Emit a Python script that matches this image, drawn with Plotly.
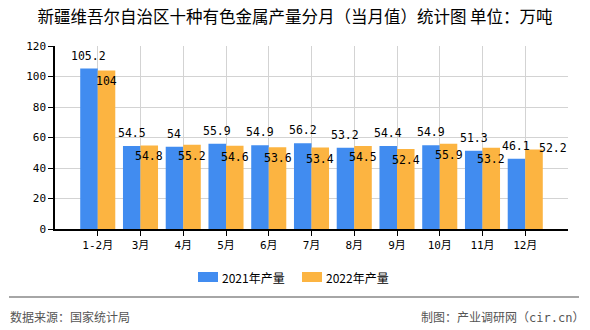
import plotly.graph_objects as go

categories = ["1-2月", "3月", "4月", "5月", "6月", "7月", "8月", "9月", "10月", "11月", "12月"]
values_2021 = [105.2, 54.5, 54, 55.9, 54.9, 56.2, 53.2, 54.4, 54.9, 51.3, 46.1]
values_2022 = [104, 54.8, 55.2, 54.6, 53.6, 53.4, 54.5, 52.4, 55.9, 53.2, 52.2]
series_names = ["2021年产量", "2022年产量"]
y_ticks = [0, 20, 40, 60, 80, 100, 120]

BLUE = "#418CF0"
ORANGE = "#FCB441"
MONO = "DejaVu Sans Mono, Noto Sans CJK SC"
CJK = "Noto Sans CJK SC"

L, R, T, B = 55, 22, 46, 101
W, H = 590, 330
pw, ph = W - L - R, H - T - B

fig = go.Figure()
fig.add_trace(go.Bar(x=categories, y=values_2021, name=series_names[0], marker_color=BLUE, marker_line_width=0))
fig.add_trace(go.Bar(x=categories, y=values_2022, name=series_names[1], marker_color=ORANGE, marker_line_width=0))

slot = pw / (len(categories) + 1)
bargap = 0.18
bw = slot * (1 - bargap) / 2

ann = []
for i, (c, v) in enumerate(zip(categories, values_2021)):
    ann.append(dict(x=c, y=v, xref="x", yref="y", text=str(v), showarrow=False,
                    xshift=-bw / 2, yshift=4, yanchor="bottom",
                    font=dict(family=MONO, size=11.5, color="black")))
for i, (c, v) in enumerate(zip(categories, values_2022)):
    if i == len(categories) - 1:
        ann.append(dict(x=c, y=v, xref="x", yref="y", text=str(v), showarrow=False,
                        xshift=bw / 2 + 19, yshift=1, yanchor="middle",
                        font=dict(family=MONO, size=11.5, color="black")))
    else:
        ann.append(dict(x=c, y=v, xref="x", yref="y", text=str(v), showarrow=False,
                        xshift=bw / 2, yshift=-2, yanchor="top",
                        font=dict(family=MONO, size=11.5, color="black")))

def px_x(p):
    return (p - L) / pw

def px_y(p):
    return (H - B - p) / ph

shapes = [dict(type="line", xref="paper", yref="paper", x0=px_x(9), x1=px_x(579),
               y0=px_y(297), y1=px_y(297), line=dict(color="#888888", width=1.5))]

# custom legend
leg_x = [198, 302]
for name, color, lx in zip(series_names, [BLUE, ORANGE], leg_x):
    shapes.append(dict(type="rect", xref="paper", yref="paper",
                       x0=px_x(lx), x1=px_x(lx + 20), y0=px_y(272), y1=px_y(282),
                       fillcolor=color, line=dict(width=0)))
    ann.append(dict(xref="paper", yref="paper", x=px_x(lx + 22), y=px_y(277), text=name,
                    showarrow=False, xanchor="left", yanchor="middle",
                    font=dict(family=CJK, size=12, color="black")))

ann.append(dict(xref="paper", yref="paper", x=px_x(8), y=px_y(316), text="数据来源：国家统计局",
                showarrow=False, xanchor="left", yanchor="middle",
                font=dict(family=CJK, size=12, color="#555555")))
ann.append(dict(xref="paper", yref="paper", x=px_x(586), y=px_y(316),
                text="制图：产业调研网（<span style='font-family:DejaVu Sans Mono'>cir.cn</span>）",
                showarrow=False, xanchor="right", yanchor="middle",
                font=dict(family=CJK, size=12, color="#555555")))

fig.update_layout(
    width=W, height=H,
    margin=dict(l=L, r=R, t=T, b=B, pad=0),
    paper_bgcolor="white", plot_bgcolor="white",
    barmode="group", bargap=bargap, bargroupgap=0,
    title=dict(text="新疆维吾尔自治区十种有色金属产量分月（当月值）统计图 单位：万吨",
               x=0.5, xref="container", xanchor="center", y=1 - 17 / H, yref="container", yanchor="middle",
               font=dict(family=CJK, size=16.5, color="black")),
    showlegend=False,
    annotations=ann,
    shapes=shapes,
)

fig.update_xaxes(type="category", range=[-1, len(categories)],
                 showline=True, linecolor="black", linewidth=1.5,
                 showgrid=True, gridcolor="#d3d3d3", gridwidth=1,
                 ticks="outside", ticklen=5, tickcolor="black",
                 tickfont=dict(family=MONO, size=11, color="black"),
                 zeroline=False, fixedrange=True)
fig.update_yaxes(range=[0, 120], tickvals=y_ticks,
                 showline=True, linecolor="black", linewidth=1.5,
                 showgrid=True, gridcolor="#d3d3d3", gridwidth=1,
                 ticks="outside", ticklen=5, tickcolor="black",
                 tickfont=dict(family=MONO, size=11, color="black"),
                 zeroline=False, fixedrange=True)

fig.write_html("out.html")
